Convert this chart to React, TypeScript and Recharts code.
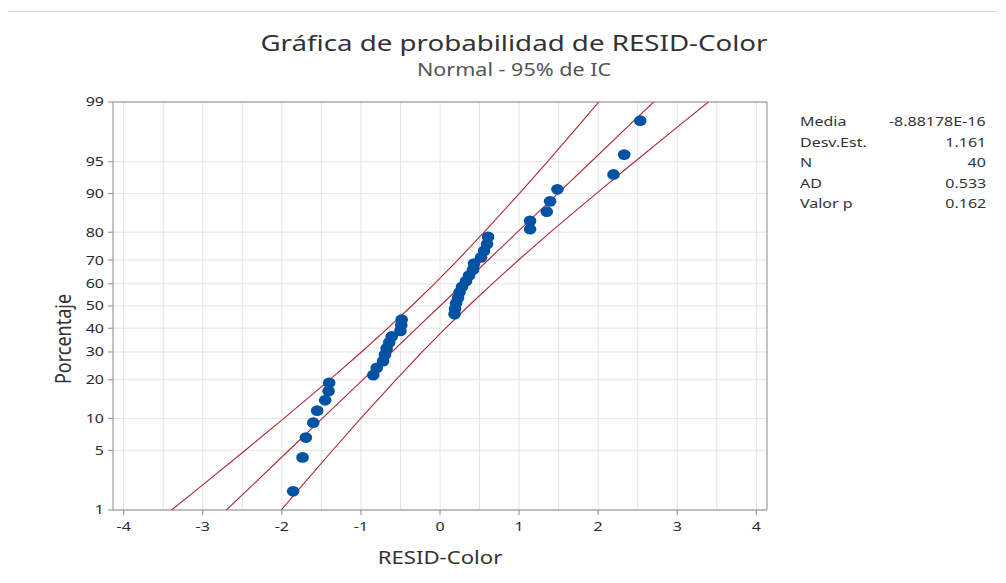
import React from 'react';
import { ScatterChart, Scatter, XAxis, YAxis, ReferenceLine } from 'recharts';

// residuals (sorted) and their plotted percent positions
const RESID = [
  -1.857, -1.738, -1.696, -1.603, -1.553, -1.452, -1.409, -1.401, -0.844, -0.8,
  -0.72, -0.696, -0.675, -0.642, -0.611, -0.5, -0.49, -0.485, 0.184, 0.19,
  0.203, 0.228, 0.247, 0.278, 0.329, 0.367, 0.418, 0.43, 0.519, 0.557,
  0.595, 0.608, 1.139, 1.139, 1.35, 1.392, 1.485, 2.194, 2.329, 2.532,
];
const PCT = [
  1.73, 4.21, 6.68, 9.16, 11.63, 14.11, 16.58, 19.06, 21.53, 24.01,
  26.49, 28.96, 31.44, 33.91, 36.39, 38.86, 41.34, 43.81, 46.29, 48.76,
  51.24, 53.71, 56.19, 58.66, 61.14, 63.61, 66.09, 68.56, 71.04, 73.51,
  75.99, 78.47, 80.94, 83.42, 85.89, 88.37, 90.84, 93.32, 95.79, 98.27,
];

// fitted line and 95% CI bands, read at these percents
const BAND_PCT = [1, 2, 5, 10, 20, 30, 40, 50, 60, 70, 80, 90, 95, 98, 99];
const FIT_X = [-2.701, -2.384, -1.91, -1.488, -0.977, -0.609, -0.294, 0, 0.294, 0.609, 0.977, 1.488, 1.91, 2.384, 2.701];
const CI_LEFT = [-3.394, -3.019, -2.462, -1.974, -1.396, -0.993, -0.66, -0.36, -0.071, 0.225, 0.558, 1.002, 1.358, 1.75, 2.008];
const CI_RIGHT = [-2.008, -1.75, -1.358, -1.002, -0.558, -0.225, 0.071, 0.36, 0.66, 0.993, 1.396, 1.974, 2.462, 3.019, 3.394];

const Y_TICKS = [1, 5, 10, 20, 30, 40, 50, 60, 70, 80, 90, 95, 99];
const X_TICKS = [-4, -3, -2, -1, 0, 1, 2, 3, 4];
const X_GRID = [-4, -3.5, -3, -2.5, -2, -1.5, -1, -0.5, 0, 0.5, 1, 1.5, 2, 2.5, 3, 3.5, 4];

const STATS = [
  ['Media', '-8.88178E-16'],
  ['Desv.Est.', '1.161'],
  ['N', '40'],
  ['AD', '0.533'],
  ['Valor p', '0.162'],
];

const FONT = '"Noto Sans", "Open Sans", sans-serif';
const RED = '#b32630';
const BLUE = '#0052a3';
const GRID = '#e4e4e4';
const AXIS = '#8a8a8a';
const SX = 1.23; // the reference text is drawn horizontally stretched

// inverse normal cdf (Acklam) - used for the probability axis transform
function probit(p: number) {
  const a = [-39.69683028665376, 220.9460984245205, -275.9285104469687, 138.357751867269, -30.66479806614716, 2.506628277459239];
  const b = [-54.47609879822406, 161.5858368580409, -155.6989798598866, 66.80131188771972, -13.28068155288572];
  const c = [-0.007784894002430293, -0.3223964580411365, -2.400758277161838, -2.549732539343734, 4.374664141464968, 2.938163982698783];
  const d = [0.007784695709041462, 0.3224671290700398, 2.445134137142996, 3.754408661907416];
  const pl = 0.02425;
  if (p < pl) {
    const q = Math.sqrt(-2 * Math.log(p));
    return (((((c[0] * q + c[1]) * q + c[2]) * q + c[3]) * q + c[4]) * q + c[5]) / ((((d[0] * q + d[1]) * q + d[2]) * q + d[3]) * q + 1);
  }
  if (p > 1 - pl) {
    const q = Math.sqrt(-2 * Math.log(1 - p));
    return -(((((c[0] * q + c[1]) * q + c[2]) * q + c[3]) * q + c[4]) * q + c[5]) / ((((d[0] * q + d[1]) * q + d[2]) * q + d[3]) * q + 1);
  }
  const q = p - 0.5;
  const r = q * q;
  return ((((((a[0] * r + a[1]) * r + a[2]) * r + a[3]) * r + a[4]) * r + a[5]) * q) / (((((b[0] * r + b[1]) * r + b[2]) * r + b[3]) * r + b[4]) * r + 1);
}

const z = (pct: number) => probit(pct / 100);

const points = RESID.map((x, i) => ({ x, y: z(PCT[i]) }));
const fitLine = BAND_PCT.map((p, i) => ({ x: FIT_X[i], y: z(p) }));
const ciLeft = BAND_PCT.map((p, i) => ({ x: CI_LEFT[i], y: z(p) }));
const ciRight = BAND_PCT.map((p, i) => ({ x: CI_RIGHT[i], y: z(p) }));

const yTickVals = Y_TICKS.map(z);
const yLabel = (v: number) => {
  const idx = yTickVals.findIndex(t => Math.abs(t - v) < 1e-6);
  return idx >= 0 ? String(Y_TICKS[idx]) : '';
};

const stretch = (x: number, y: number) => `translate(${x},${y}) scale(${SX},1) translate(${-x},${-y})`;

const XTick = (props: any) => {
  const { x, y, payload } = props;
  return (
    <text x={x} y={y + 14} textAnchor="middle" fontSize={13} fill="#2a2a2a" fontFamily={FONT} transform={stretch(x, y)}>
      {payload.value}
    </text>
  );
};

const YTick = (props: any) => {
  const { x, y, payload } = props;
  const ax = x - 2;
  return (
    <text x={ax} y={y + 4.5} textAnchor="end" fontSize={13} fill="#2a2a2a" fontFamily={FONT} transform={stretch(ax, y)}>
      {yLabel(payload.value)}
    </text>
  );
};

const Dot = (props: any) => {
  const { cx, cy } = props;
  if (cx == null || cy == null) return <g />;
  return <ellipse cx={cx} cy={cy} rx={6.3} ry={5.4} fill={BLUE} />;
};
const NoDot = () => <g />;

const stretched = (extra: React.CSSProperties): React.CSSProperties => ({
  position: 'absolute',
  whiteSpace: 'nowrap',
  transform: `scaleX(${SX})`,
  ...extra,
});

export default function App() {
  return (
    <div style={{ position: 'relative', width: 1006, height: 583, margin: -8, background: '#fff', fontFamily: FONT }}>
      {/* outer frame */}
      <div style={{ position: 'absolute', left: 5, top: 11, width: 1010, height: 580, borderLeft: '1px solid #dcdcdc', borderTop: '1px solid #dcdcdc' }} />

      <div style={stretched({ left: 0, width: 1028, top: 27, textAlign: 'center', fontSize: 22.5, color: '#333' })}>
        Gráfica de probabilidad de RESID-Color
      </div>
      <div style={stretched({ left: 0, width: 1028, top: 57, textAlign: 'center', fontSize: 17.5, color: '#555' })}>
        Normal - 95% de IC
      </div>

      <ScatterChart
        width={1006}
        height={583}
        margin={{ top: 102, right: 239, bottom: 43, left: 53 }}
        style={{ position: 'absolute', left: 0, top: 0 }}
      >
        {X_GRID.map(g => (
          <ReferenceLine key={'gx' + g} x={g} stroke={GRID} strokeWidth={1} />
        ))}
        {yTickVals.map(g => (
          <ReferenceLine key={'gy' + g} y={g} stroke={GRID} strokeWidth={1} />
        ))}
        <XAxis
          type="number"
          dataKey="x"
          domain={[-4.135, 4.135]}
          ticks={X_TICKS}
          interval={0}
          allowDataOverflow
          height={30}
          stroke={AXIS}
          tickSize={5}
          tick={XTick}
        />
        <YAxis
          type="number"
          dataKey="y"
          domain={[z(1), z(99)]}
          ticks={yTickVals}
          interval={0}
          allowDataOverflow
          width={60}
          stroke={AXIS}
          tickSize={5}
          tick={YTick}
        />
        <ReferenceLine y={z(99)} stroke={AXIS} />
        <ReferenceLine x={4.135} stroke={AXIS} />
        <Scatter data={ciLeft} fill={RED} line={{ stroke: RED, strokeWidth: 1.1 }} shape={NoDot} isAnimationActive={false} />
        <Scatter data={fitLine} fill={RED} line={{ stroke: RED, strokeWidth: 1.1 }} shape={NoDot} isAnimationActive={false} />
        <Scatter data={ciRight} fill={RED} line={{ stroke: RED, strokeWidth: 1.1 }} shape={NoDot} isAnimationActive={false} />
        <Scatter data={points} fill={BLUE} shape={Dot} isAnimationActive={false} />
      </ScatterChart>

      {/* axis titles */}
      <div style={stretched({ left: 340, width: 200, top: 545, textAlign: 'center', fontSize: 18, color: '#333' })}>
        RESID-Color
      </div>
      <div
        style={{
          position: 'absolute', left: 62, top: 339, whiteSpace: 'nowrap', fontSize: 18, color: '#333',
          transform: `translate(-50%, -50%) rotate(-90deg) scaleY(${SX})`,
        }}
      >
        Porcentaje
      </div>

      <div style={{ position: 'absolute', left: 800, top: 111, width: 186, fontSize: 13, color: '#333' }}>
        {STATS.map(([k, v]) => (
          <div key={k} style={{ position: 'relative', height: 20.5, lineHeight: '20.5px' }}>
            <span style={{ position: 'absolute', left: 0, transformOrigin: 'left center', transform: `scaleX(${SX})` }}>{k}</span>
            <span style={{ position: 'absolute', right: 0, transformOrigin: 'right center', transform: `scaleX(${SX})` }}>{v}</span>
          </div>
        ))}
      </div>
    </div>
  );
}
